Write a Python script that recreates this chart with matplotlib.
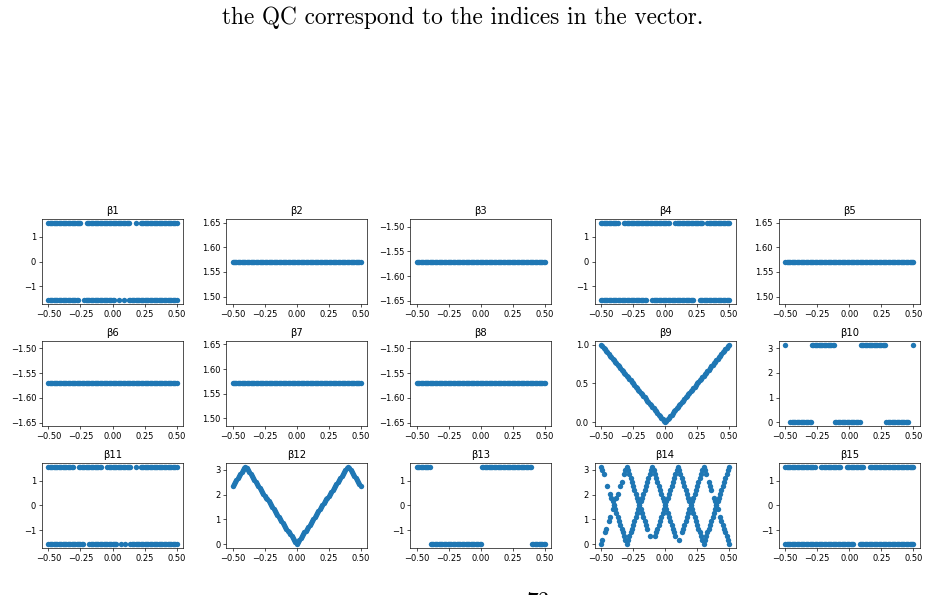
import numpy as np
import matplotlib
matplotlib.use('Agg')
import matplotlib.pyplot as plt

# sample positions along the x axis
x_fine = [-0.50, -0.49, -0.48, -0.47, -0.46, -0.45, -0.44, -0.43, -0.42, -0.41,
          -0.40, -0.39, -0.38, -0.37, -0.36, -0.35, -0.34, -0.33, -0.32, -0.31,
          -0.30, -0.29, -0.28, -0.27, -0.26, -0.25, -0.24, -0.23, -0.22, -0.21,
          -0.20, -0.19, -0.18, -0.17, -0.16, -0.15, -0.14, -0.13, -0.12, -0.11,
          -0.10, -0.09, -0.08, -0.07, -0.06, -0.05, -0.04, -0.03, -0.02, -0.01,
          0.00,
          0.01, 0.02, 0.03, 0.04, 0.05, 0.06, 0.07, 0.08, 0.09, 0.10,
          0.11, 0.12, 0.13, 0.14, 0.15, 0.16, 0.17, 0.18, 0.19, 0.20,
          0.21, 0.22, 0.23, 0.24, 0.25, 0.26, 0.27, 0.28, 0.29, 0.30,
          0.31, 0.32, 0.33, 0.34, 0.35, 0.36, 0.37, 0.38, 0.39, 0.40,
          0.41, 0.42, 0.43, 0.44, 0.45, 0.46, 0.47, 0.48, 0.49, 0.50]

# two-level panels: band values and the x samples missing from each band
band_hi = 1.5708
band_lo = -1.5708
b1_top_gaps = [-0.24, -0.23, -0.22, -0.21, 0.14, 0.15, 0.16, 0.17, 0.19, 0.20, 0.21]
b1_bot_gaps = [-0.26, -0.25, -0.24, -0.23, 0.02, 0.03, 0.04, 0.06, 0.07, 0.08,
               0.10, 0.11, 0.12]
b4_top_gaps = [-0.36, -0.35, -0.34, -0.33, 0.04, 0.05, 0.06, 0.07, 0.30, 0.31, 0.32]
b4_bot_gaps = [-0.14, -0.13, -0.12, -0.11, 0.23, 0.24, 0.25, 0.26]
b11_top_gaps = [-0.30, -0.29, -0.28, -0.27, -0.08, -0.07, -0.06, -0.05,
                0.15, 0.16, 0.17, 0.19, 0.20, 0.21]
b11_bot_gaps = [-0.22, -0.21, -0.20, -0.19, 0.04, 0.05, 0.06, 0.08, 0.09,
                0.11, 0.12, 0.13]
b15_top_gaps = [-0.26, -0.25, -0.24, -0.23, -0.06, -0.05, -0.04, -0.03,
                0.12, 0.13, 0.14, 0.15]
b15_bot_gaps = [0.04, 0.05, 0.06, 0.07]

# constant panels
b2_level = 1.5708
b3_level = -1.5708
b5_level = 1.5708
b6_level = -1.5708
b7_level = 1.5708
b8_level = -1.5708

# values on x_fine
b9_y = [1.00, 0.98, 0.96, 0.94, 0.92, 0.90, 0.88, 0.86, 0.84, 0.82,
        0.80, 0.78, 0.76, 0.74, 0.72, 0.70, 0.68, 0.66, 0.64, 0.62,
        0.60, 0.58, 0.56, 0.54, 0.52, 0.50, 0.48, 0.46, 0.44, 0.42,
        0.40, 0.38, 0.36, 0.34, 0.32, 0.30, 0.28, 0.26, 0.24, 0.22,
        0.20, 0.18, 0.16, 0.14, 0.12, 0.10, 0.08, 0.06, 0.04, 0.02,
        0.00,
        0.02, 0.04, 0.06, 0.08, 0.10, 0.12, 0.14, 0.16, 0.18, 0.20,
        0.22, 0.24, 0.26, 0.28, 0.30, 0.32, 0.34, 0.36, 0.38, 0.40,
        0.42, 0.44, 0.46, 0.48, 0.50, 0.52, 0.54, 0.56, 0.58, 0.60,
        0.62, 0.64, 0.66, 0.68, 0.70, 0.72, 0.74, 0.76, 0.78, 0.80,
        0.82, 0.84, 0.86, 0.88, 0.90, 0.92, 0.94, 0.96, 0.98, 1.00]
b10_y = ([3.14] + [None] * 3 + [0.0] * 17 + [3.14] * 18 + [0.0] * 20
         + [3.14] * 20 + [0.0] * 18 + [None] * 3 + [3.14])
b13_y = [1.5708] * 11 + [-1.5708] * 40 + [1.5708] * 39 + [-1.5708] * 11

b12_y = [2.36, 2.43, 2.51, 2.59, 2.67, 2.75, 2.83, 2.91, 2.98, 3.06,
         3.14, 3.06, 2.98, 2.91, 2.83, 2.75, 2.67, 2.59, 2.51, 2.43,
         2.36, 2.28, 2.20, 2.12, 2.04, 1.96, 1.88, 1.81, 1.73, 1.65,
         1.57, 1.49, 1.41, 1.34, 1.26, 1.18, 1.10, 1.02, 0.94, 0.86,
         0.79, 0.71, 0.63, 0.55, 0.47, 0.39, 0.31, 0.24, 0.16, 0.08,
         0.00,
         0.08, 0.16, 0.24, 0.31, 0.39, 0.47, 0.55, 0.63, 0.71, 0.79,
         0.86, 0.94, 1.02, 1.10, 1.18, 1.26, 1.34, 1.41, 1.49, 1.57,
         1.65, 1.73, 1.81, 1.88, 1.96, 2.04, 2.12, 2.20, 2.28, 2.36,
         2.43, 2.51, 2.59, 2.67, 2.75, 2.83, 2.91, 2.98, 3.06, 3.14,
         3.06, 2.98, 2.91, 2.83, 2.75, 2.67, 2.59, 2.51, 2.43, 2.36]

b14_a = [3.14, 2.98, 2.83, None, None, 2.36, None, 2.04, 1.88, 1.73,
         1.57, 1.41, 1.26, 1.10, 0.94, 0.79, 0.63, 0.47, 0.31, 0.16,
         0.00, 0.16, 0.31, 0.47, 0.63, 0.79, 0.94, 1.10, 1.26, 1.41,
         1.57, 1.73, 1.88, 2.04, 2.20, 2.36, 2.51, 2.67, 2.83, 2.98,
         3.14, 2.98, 2.83, 2.67, 2.51, 2.36, 2.20, 2.04, 1.88, 1.73,
         1.57,
         1.73, 1.88, 2.04, 2.20, 2.36, 2.51, 2.67, 2.83, 2.98, 3.14,
         2.98, 2.83, 2.67, 2.51, 2.36, 2.20, 2.04, 1.88, 1.73, 1.57,
         1.41, 1.26, 1.10, 0.94, 0.79, 0.63, 0.47, 0.31, 0.16, 0.00,
         0.16, 0.31, 0.47, 0.63, 0.79, 0.94, 1.10, 1.26, 1.41, 1.57,
         1.73, 1.88, 2.04, 2.20, 2.36, 2.51, 2.67, 2.83, 2.98, 3.14]

b14_b = [0.00, 0.16, None, 0.47, 0.63, None, 0.94, 1.10, None, 1.41,
         1.57, None, 1.88, 2.04, None, 2.36, 2.51, None, 2.83, 2.98,
         3.14, 2.98, 2.83, 2.67, 2.51, 2.36, 2.20, 2.04, 1.88, 1.73,
         1.57, 1.41, 1.26, 1.10, 0.94, 0.79, 0.63, None, 0.31, None,
         None, None, 0.31, 0.47, 0.63, 0.79, 0.94, 1.10, 1.26, 1.41,
         1.57,
         1.41, 1.26, 1.10, 0.94, 0.79, 0.63, 0.47, 0.31, None, None,
         0.16, None, 0.47, 0.63, 0.79, 0.94, 1.10, 1.26, 1.41, 1.57,
         1.73, 1.88, 2.04, 2.20, 2.36, 2.51, 2.67, 2.83, 2.98, 3.14,
         2.98, 2.83, None, 2.51, 2.36, 2.20, None, 1.88, 1.73, 1.57,
         1.41, None, 1.10, 0.94, 0.79, 0.63, 0.47, 0.31, 0.16, 0.00]

caption = 'the QC correspond to the indices in the vector.'
page_number = '73'


def keep(xs, gaps):
    return [x for x in xs if x not in gaps]


def two_bands(top_gaps, bot_gaps):
    top_x = keep(x_fine, top_gaps)
    bot_x = keep(x_fine, bot_gaps)
    return [(top_x, [band_hi] * len(top_x)), (bot_x, [band_lo] * len(bot_x))]


def flat(level):
    return [(x_fine, [level] * len(x_fine))]


panels = [
    two_bands(b1_top_gaps, b1_bot_gaps),
    flat(b2_level),
    flat(b3_level),
    two_bands(b4_top_gaps, b4_bot_gaps),
    flat(b5_level),
    flat(b6_level),
    flat(b7_level),
    flat(b8_level),
    [(x_fine, b9_y)],
    [(x_fine, b10_y)],
    two_bands(b11_top_gaps, b11_bot_gaps),
    [(x_fine, b12_y)],
    [(x_fine, b13_y)],
    [(x_fine, b14_a), (x_fine, b14_b)],
    two_bands(b15_top_gaps, b15_bot_gaps),
]

fig, axes = plt.subplots(3, 5, figsize=(15.5, 595 / 60), dpi=60)
fig.subplots_adjust(left=0.0452, right=0.989, bottom=0.079, top=0.632,
                    wspace=0.307, hspace=0.427)

for i, (ax, series) in enumerate(zip(axes.flat, panels)):
    xs = np.concatenate([np.array(x, dtype=float) for x, _ in series])
    ys = np.concatenate([np.array(y, dtype=float) for _, y in series])
    ax.scatter(xs, ys, color='C0', s=42, linewidths=0)
    ax.set_title('β%d' % (i + 1))

# beta9 only gets three y ticks in the reference
axes[1, 3].set_yticks([0.0, 0.5, 1.0])

fig.text(0.4975, 1 - 24 / 595, caption, family='cmr10', fontsize=28,
         ha='center', va='baseline')
fig.text(538 / 930, 1 - 591 / 595, page_number, family='cmr10', fontsize=28,
         ha='center', va='top')

fig.savefig('out.png', dpi=60)
